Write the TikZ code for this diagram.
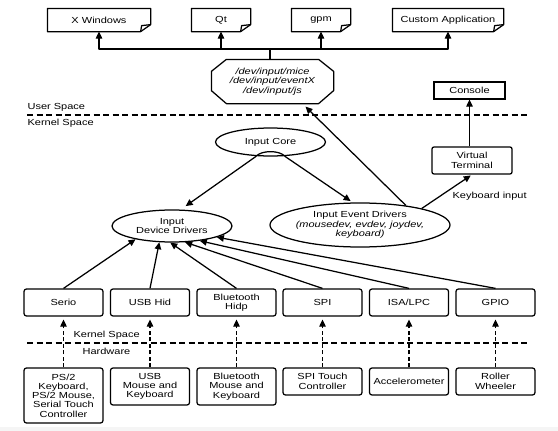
\documentclass[tikz,border=0pt]{standalone}
\usepackage{fontspec}
\setmainfont{Liberation Sans}[FakeStretch=1.25]
\usetikzlibrary{arrows.meta,calc,shapes.geometric}
\newcommand\docoutline[1]{%
  \draw[ln] (#1.north west) -- (#1.north east) -- ($(#1.south east)+(0,-7)$)
    -- ($(#1.south east)+(-10,0)$) -- (#1.south west) -- cycle;
  \draw[ln] ($(#1.south east)+(-10,0)$) -- ($(#1.south east)+(-9,-6)$) -- ($(#1.south east)+(0,-7)$);}
\begin{document}
\begin{tikzpicture}[x=1pt,y=-1pt,
  ln/.style={line width=1.25pt, line join=round},
  base/.style={font=\fontsize{8.8}{9.3}\selectfont, align=center, inner sep=0pt, line width=1.25pt},
  ital/.style={font=\fontsize{8.8}{9.3}\selectfont\itshape},
  doc/.style={base, minimum height=22pt},
  sq/.style={base, draw, minimum width=71pt, minimum height=17pt},
  rbox/.style={base, draw, rounded corners=2.5pt, minimum width=79pt},
  ell/.style={base, draw, ellipse},
  lab/.style={base, anchor=west},
  arr/.style={ln, -{Triangle[length=7pt,width=6.5pt]}},
  darr/.style={arr, dash pattern=on 4pt off 2.5pt, shorten >=3pt},
  sepline/.style={ln, dash pattern=on 6pt off 3.5pt}]
\useasboundingbox (0,0) rectangle (558,431);
\fill[white] (0,0) rectangle (558,431);
\fill[gray!8] (0,427) rectangle (558,431);

% top applications
\node[doc, minimum width=102pt] (xw) at (99,20) {X Windows};
\node[doc, minimum width=58pt] (qt) at (221,20) {Qt};
\node[doc, minimum width=58pt] (gpm) at (321,20) {gpm};
\node[doc, minimum width=110pt] (ca) at (448,20) {Custom Application};
\docoutline{xw}\docoutline{qt}\docoutline{gpm}\docoutline{ca}

% device files octagon
\node[base, ital, minimum width=121pt, minimum height=43pt] (dev) at (272.5,81.5)
  {/dev/input/mice\\/dev/input/eventX\\/dev/input/js};
\draw[ln] ($(dev.north west)+(15,0)$) -- ($(dev.north east)+(-15,0)$)
  -- ($(dev.north east)+(0,12)$) -- ($(dev.south east)+(0,-13)$)
  -- ($(dev.south east)+(-15,0)$) -- ($(dev.south west)+(15,0)$)
  -- ($(dev.south west)+(0,-13)$) -- ($(dev.north west)+(0,12)$) -- cycle;

\coordinate (hub) at (270,49);
\draw[ln] (dev.north -| hub) -- (hub);
\draw[arr] (hub) -| (xw.south);
\draw[arr] (hub) -| (qt.south);
\draw[arr] (hub) -| (gpm.south);
\draw[arr] (hub) -| (ca.south);

% console and terminal
\node[sq] (con) at (469.5,90.5) {Console};
\node[base, draw, rounded corners=2pt, minimum width=80pt, minimum height=27pt] (vt) at (472,160.5) {Virtual\\Terminal};
\draw[arr] (vt.north -| con.south) -- (con.south);

% separators
\coordinate (s1l) at (27,115); \coordinate (s1r) at (527,115);
\draw[sepline] (s1l) -- (s1r);
\node[lab] (us) at (27,107) {User Space};
\node[lab] (ks1) at (27,123.5) {Kernel Space};

% core
\node[ell, minimum width=110pt, minimum height=28pt] (ic) at (270.5,142) {Input Core};
\node[ell, minimum width=120pt, minimum height=32pt] (idd) at (172,226) {Input\\Device Drivers};
\node[ell, inner xsep=-2pt, minimum width=180pt, minimum height=44pt] (ied) at (360,225)
  {Input Event Drivers\\{\itshape (mousedev, evdev, joydev,}\\{\itshape keyboard)}};

\draw[ln] (ic.225) .. controls ($(ic.225)+(5,-6)$) and ($(ic.315)+(-5,-6)$) .. (ic.315);
\draw[arr, shorten >=6pt] (ic.225) -- (idd.62);
\draw[arr, shorten >=2.5pt] (ic.315) -- (ied.108);
\draw[arr] (ied.23.6) -- ($(dev.south)+(33,3)$);
\draw[arr, shorten >=1.5pt] (ied.15.7) -- (vt.south);
\node[lab] (kbd) at (452,196) {Keyboard input};

% bus drivers
\node[rbox, minimum height=27pt] (serio) at (63.5,302.5) {Serio};
\node[rbox, minimum height=27pt] (usb) at (150,302.5) {USB Hid};
\node[rbox, minimum height=27pt] (bt) at (236.5,302.5) {Bluetooth\\Hidp};
\node[rbox, minimum height=27pt] (spi) at (322.5,302.5) {SPI};
\node[rbox, minimum height=27pt] (isa) at (409,302.5) {ISA/LPC};
\node[rbox, minimum height=27pt] (gpio) at (495.5,302.5) {GPIO};

\draw[arr] (serio.north) -- (idd.200.7);
\draw[arr] (usb.north) -- (idd.232);
\draw[arr] (bt.north) -- (idd.264);
\draw[arr] (spi.north) -- (idd.309.5);
\draw[arr] (isa.north) -- (idd.332.7);
\draw[arr] (gpio.north) -- (idd.346);

% lower separator
\coordinate (s2l) at (27,343); \coordinate (s2r) at (528,343);
\draw[sepline] (s2l) -- (s2r);
\node[lab] (ks2) at (73,335) {Kernel Space};
\node[lab] (hwl) at (82,351.5) {Hardware};

% hardware
\node[rbox, minimum height=55pt] (ps2) at (63.5,395.5) {PS/2\\Keyboard,\\PS/2 Mouse,\\Serial Touch\\Controller};
\node[rbox, minimum height=37pt] (usbhw) at (150,386.5) {USB\\Mouse and\\Keyboard};
\node[rbox, minimum height=37pt] (bthw) at (236.5,386.5) {Bluetooth\\Mouse and\\Keyboard};
\node[rbox, minimum height=27pt] (spihw) at (322.5,381.5) {SPI Touch\\Controller};
\node[rbox, minimum height=27pt] (acc) at (409,381.5) {Accelerometer};
\node[rbox, minimum height=27pt] (roll) at (495.5,381.5) {Roller\\Wheeler};

\draw[darr] (ps2.north) -- (serio.south);
\draw[darr] (usbhw.north) -- (usb.south);
\draw[darr] (bthw.north) -- (bt.south);
\draw[darr] (spihw.north) -- (spi.south);
\draw[darr] (acc.north) -- (isa.south);
\draw[darr] (roll.north) -- (gpio.south);
\end{tikzpicture}
\end{document}
